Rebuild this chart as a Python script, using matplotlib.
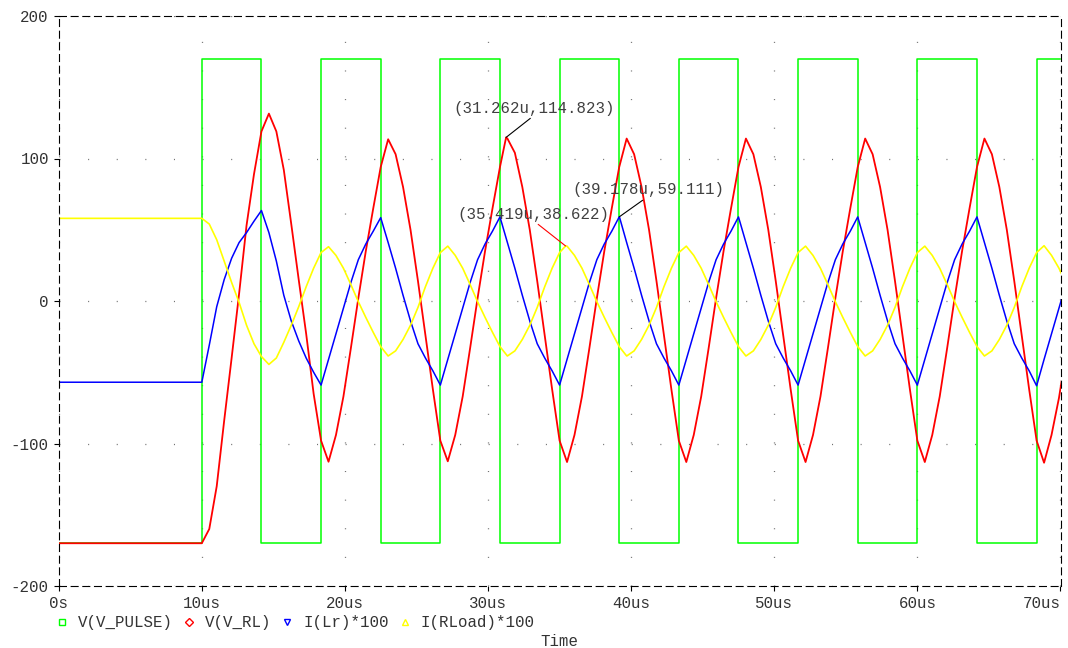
import numpy as np
import matplotlib.pyplot as plt
from matplotlib.lines import Line2D

plt.rcParams['font.family'] = ['Liberation Mono', 'DejaVu Sans Mono']
plt.rcParams['lines.scale_dashes'] = False
plt.rcParams['axes.unicode_minus'] = False

# pulse source: period 8.333us, traces printed every period/16 from 10us on
period = 8.333
n_samples = 117

# V(V_PULSE) edges (us) and levels (V)
pulse_t = [0, 10, 14.167, 18.333, 22.5, 26.667, 30.833, 35.0, 39.167,
           43.333, 47.5, 51.667, 55.833, 60.0, 64.167, 68.333, 70]
pulse_v = [-170, 170, -170, 170, -170, 170, -170, 170, -170,
           170, -170, 170, -170, 170, -170, 170, 170]

# value at 0s, then one row per switching period
v_rl = [-170,
        -170, -160, -130, -84, -40, 5, 53, 89, 119, 131.5, 119, 92, 54, 15, -23, -65,
        -98, -112.8, -94, -67, -33, 2, 35, 65, 94, 113.5, 103, 80, 50, 14, -24, -62,
        -98, -112.5, -94, -67, -33, 2, 35, 65, 94, 114, 104, 80, 50, 14, -24, -62,
        -98, -113, -94, -67, -33, 2, 35, 65, 94, 114, 103, 80, 50, 14, -24, -62,
        -98, -113, -94, -67, -33, 2, 35, 65, 94, 114, 103, 80, 50, 14, -24, -62,
        -98, -113, -94, -67, -33, 2, 35, 65, 94, 114, 103, 80, 50, 14, -24, -62,
        -98, -113, -94, -67, -33, 2, 35, 65, 94, 114, 103, 80, 50, 14, -24, -62,
        -98, -113.5, -94, -68, -35]

i_lr = [-57,
        -57, -31, -4, 15, 30, 41, 48, 56, 63.5, 48, 28, 4, -14, -28, -40, -50,
        -59, -41, -23, -5, 13, 29, 40, 49, 58.5, 41, 23, 4, -14, -30, -40, -49,
        -59, -41, -23, -5, 13, 29, 40, 49, 59, 41, 23, 4, -14, -30, -40, -49,
        -59, -41, -23, -5, 13, 29, 40, 49, 59, 41, 23, 4, -14, -30, -40, -49,
        -59, -41, -23, -5, 13, 29, 40, 49, 59, 41, 23, 4, -14, -30, -40, -49,
        -59, -41, -23, -5, 13, 29, 40, 49, 59, 41, 23, 4, -14, -30, -40, -49,
        -59, -41, -23, -5, 13, 29, 40, 49, 59, 41, 23, 4, -14, -30, -40, -49,
        -59.5, -41, -23, -5, 13]

i_rload = [58,
           58, 54, 43, 28, 13, -1, -17, -30, -39, -44.5, -40, -29, -17, -4, 10, 23,
           34, 38.1, 32, 23, 11.5, -0.5, -11.5, -22, -32, -38.6, -35, -27, -17, -4.5, 10, 23,
           34, 38.5, 32, 23, 11.5, -0.5, -11.5, -22, -32, -38.6, -35, -27, -17, -4.5, 10, 23,
           34, 38.5, 32, 23, 11.5, -0.5, -11.5, -22, -32, -38.6, -35, -27, -17, -4.5, 10, 23,
           34, 38.5, 32, 23, 11.5, -0.5, -11.5, -22, -32, -38.6, -35, -27, -17, -4.5, 10, 23,
           34, 38.5, 32, 23, 11.5, -0.5, -11.5, -22, -32, -38.6, -35, -27, -17, -4.5, 10, 23,
           34, 38.5, 32, 23, 11.5, -0.5, -11.5, -22, -32, -38.6, -35, -27, -17, -4.5, 10, 23,
           34, 38.8, 32, 23, 11.5]

# cursor readouts (us, value)
cursor_rl = (31.262, 114.823)
cursor_lr = (39.178, 59.111)
cursor_rload = (35.419, 38.622)

t = np.concatenate([[0.0], 10 + period / 16 * np.arange(n_samples)])


def add_point(tt, vv, point):
    i = np.searchsorted(tt, point[0])
    return np.insert(tt, i, point[0]), np.insert(np.asarray(vv, float), i, point[1])


t_rl, y_rl = add_point(t, v_rl, cursor_rl)
t_lr, y_lr = add_point(t, i_lr, cursor_lr)
t_rload, y_rload = add_point(t, i_rload, cursor_rload)

W, H = 1068, 648
fig = plt.figure(figsize=(W / 100, H / 100), dpi=100)
ax = fig.add_axes([58.7 / W, 1 - 586 / H, (1060.5 - 58.7) / W, (586 - 16) / H])

ax.plot(pulse_t, pulse_v, drawstyle='steps-post', color='#00ff00', lw=1.1, zorder=3)
ax.plot(t_rl, y_rl, color='#ff0000', lw=1.3, zorder=4)
ax.plot(t_lr, y_lr, color='#0000ff', lw=1.1, zorder=5)
ax.plot(t_rload, y_rload, color='#ffff00', lw=1.2, zorder=6)

ax.set_xlim(0, 70)
ax.set_ylim(-200, 200)
ax.set_xticks(range(0, 71, 10))
ax.set_xticklabels(['0s'] + ['%dus' % v for v in range(10, 71, 10)])
ax.set_yticks(range(-200, 201, 100))
ax.set_yticklabels([str(v) for v in range(-200, 201, 100)])
ax.tick_params(direction='out', length=3.6, width=0.8, color='black',
               labelsize=11.3, labelcolor='#333333', pad=3.5)
ax.get_xticklabels()[-1].set_horizontalalignment('right')

# dotted grid, one dot every 2us / 20 units
ax.grid(True, color='#707070', lw=0.9, linestyle=(0, (0.75, 19.85)), zorder=1)
ax.set_axisbelow(True)

for sp in ax.spines.values():
    sp.set_linestyle((0, (5, 3.4)))
    sp.set_linewidth(0.8)
    sp.set_color('black')
    sp.set_zorder(7)

note_kw = dict(textcoords='data', ha='left', va='center', fontsize=11.3,
               color='#404040', zorder=8)
ax.annotate('(31.262u,114.823)', xy=cursor_rl, xytext=(27.56, 135.4),
            arrowprops=dict(arrowstyle='-', color='black', lw=0.8,
                            shrinkA=0, shrinkB=0, relpos=(0.5, 0)), **note_kw)
ax.annotate('(39.178u,59.111)', xy=cursor_lr, xytext=(35.87, 77.9),
            arrowprops=dict(arrowstyle='-', color='black', lw=0.8,
                            shrinkA=0, shrinkB=0, relpos=(0.49, 0)), **note_kw)
ax.annotate('(35.419u,38.622)', xy=cursor_rload, xytext=(27.84, 61.0),
            arrowprops=dict(arrowstyle='-', color='#ff0000', lw=0.8,
                            shrinkA=0, shrinkB=0, relpos=(0.51, 0)), **note_kw)

handles = [
    Line2D([], [], ls='none', marker='s', mfc='none', mec='#00ff00', ms=5, mew=1),
    Line2D([], [], ls='none', marker='D', mfc='none', mec='#ff0000', ms=4.5, mew=1),
    Line2D([], [], ls='none', marker='v', mfc='none', mec='#0000ff', ms=5, mew=1),
    Line2D([], [], ls='none', marker='^', mfc='none', mec='#ffff00', ms=5, mew=1),
]
labels = ['V(V_PULSE)', 'V(V_RL)', 'I(Lr)*100', 'I(RLoad)*100']
leg = fig.legend(handles, labels, ncol=4, frameon=False, loc='center left',
                 bbox_to_anchor=(55.5 / W, 1 - 623 / H), bbox_transform=fig.transFigure,
                 fontsize=11.3, handlelength=0.8, handletextpad=0.62,
                 columnspacing=0.62, borderpad=0, borderaxespad=0)
for txt in leg.get_texts():
    txt.set_color('#333333')

fig.text(559 / W, 1 - 641 / H, 'Time', ha='center', va='center',
         fontsize=11.3, color='#333333')

fig.savefig('out.png', dpi=100)
